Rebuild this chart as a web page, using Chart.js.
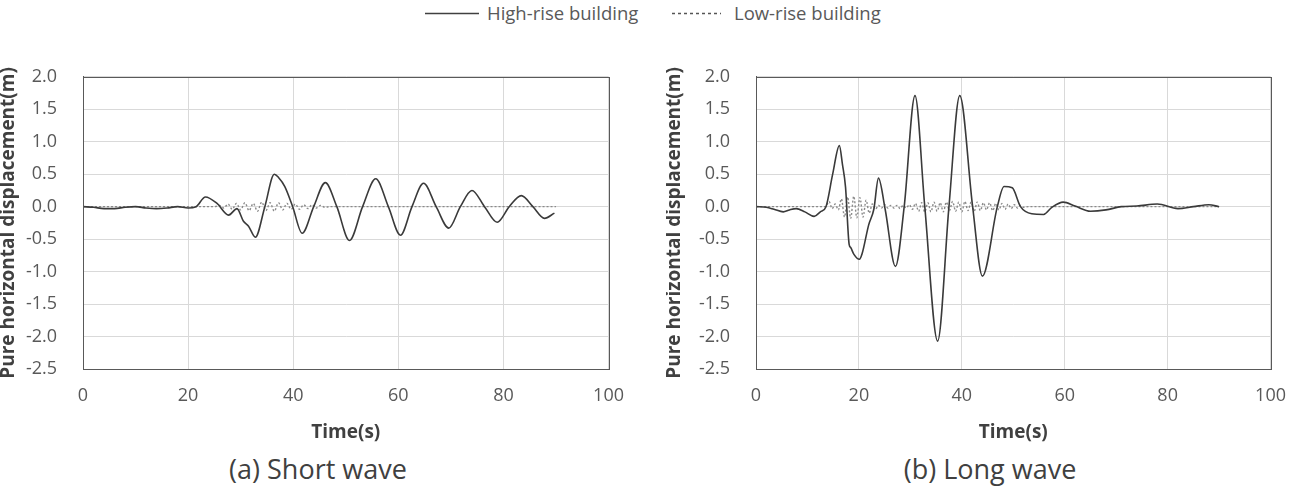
<!DOCTYPE html>
<html>
<head>
<meta charset="utf-8">
<script src="https://cdn.jsdelivr.net/npm/chart.js@4.4.0/dist/chart.umd.min.js"></script>
<style>
  body { margin: 0; background: #fff; width: 1302px; height: 487px; position: relative; overflow: hidden; font-family: "Open Sans", sans-serif; }
  canvas { position: absolute; }
  #grafico_curta { left: 0; top: 40px; }
  #grafico_longa { left: 666px; top: 40px; }
  .legenda { position: absolute; top: 0; font-size: 18.5px; color: #595959; white-space: nowrap; line-height: 26px; }
  .legenda svg { position: absolute; top: 12px; }
  .rotulo { position: absolute; top: 450px; font-size: 27px; color: #404040; width: 640px; text-align: center; }
</style>
</head>
<body>
<div class="legenda" style="left:425px"><svg width="54" height="3" style="left:0"><line x1="0" y1="1.5" x2="54" y2="1.5" stroke="#404040" stroke-width="1.3"/></svg><span style="position:absolute;left:62px">High-rise building</span></div>
<div class="legenda" style="left:672px"><svg width="49" height="3" style="left:0"><line x1="0" y1="1.5" x2="49" y2="1.5" stroke="#555" stroke-width="1.3" stroke-dasharray="3,3"/></svg><span style="position:absolute;left:62px">Low-rise building</span></div>
<canvas id="grafico_curta" width="640" height="410"></canvas>
<canvas id="grafico_longa" width="636" height="410"></canvas>
<div class="rotulo" style="left:-2px">(a) Short wave</div>
<div class="rotulo" style="left:670px">(b) Long wave</div>
<script>
// eixos
const xTicks = [0, 20, 40, 60, 80, 100];
const yTicks = [2.0, 1.5, 1.0, 0.5, 0.0, -0.5, -1.0, -1.5, -2.0, -2.5];

// (a) short wave - high-rise
const curtaAltoT = [0, 2, 4, 6, 8, 10, 12, 14, 16, 18, 20, 21.5, 23.3, 25.5, 27.7, 29.3, 30.5, 31.5, 32.8, 34.6, 36.4, 37.2, 38.4, 39.9, 41.7, 43.9, 46.1, 48.3, 50.7, 53.2, 55.7, 58.1, 60.4, 62.6, 64.8, 67.2, 69.6, 71.8, 74.0, 76.4, 78.8, 81.1, 83.4, 85.6, 87.8, 89.7];
const curtaAltoV = [0, -0.01, -0.03, -0.03, -0.01, 0.0, -0.02, -0.03, -0.02, 0.0, -0.02, 0.0, 0.15, 0.05, -0.13, -0.03, -0.22, -0.3, -0.47, 0.0, 0.50, 0.45, 0.31, 0.0, -0.41, 0.0, 0.37, 0.0, -0.52, 0.0, 0.43, 0.0, -0.44, 0.0, 0.36, 0.0, -0.33, 0.0, 0.25, 0.0, -0.24, 0.0, 0.17, 0.0, -0.18, -0.10];

// (a) short wave - low-rise
const curtaBaixoT = [0, 25, 26.0, 26.8, 27.6, 28.4, 29.2, 30.0, 30.8, 31.6, 32.4, 33.2, 34.0, 34.8, 35.6, 36.4, 37.2, 38.0, 38.8, 39.6, 40.4, 41.2, 42.0, 42.8, 43.6, 44.4, 45.2, 46.0, 47, 90];
const curtaBaixoV = [0, 0, 0.02, -0.02, 0.04, -0.04, 0.05, -0.05, 0.06, -0.06, 0.05, -0.07, 0.07, -0.06, 0.06, -0.07, 0.06, -0.05, 0.05, -0.04, 0.04, -0.04, 0.03, -0.03, 0.03, -0.02, 0.02, -0.01, 0, 0];

// (b) long wave - high-rise
const longaAltoT = [0, 2, 3.5, 5.3, 6.5, 7.8, 9.5, 11.3, 12.5, 13.6, 14.9, 16.2, 16.8, 17.4, 18.1, 18.4, 19.0, 20.1, 20.6, 21.9, 22.9, 23.8, 25.1, 27.1, 28.8, 30.9, 32.8, 35.3, 37.5, 39.6, 42.1, 44.0, 46.9, 48.2, 49.8, 51.4, 53.6, 55.9, 57.5, 59.7, 62, 65, 68, 71, 74, 78, 82, 85, 88, 90];
const longaAltoV = [0, -0.01, -0.04, -0.08, -0.05, -0.03, -0.08, -0.15, -0.08, 0.0, 0.5, 0.94, 0.65, 0.30, -0.58, -0.63, -0.73, -0.81, -0.73, -0.28, -0.04, 0.44, -0.04, -0.92, 0.0, 1.71, 0.0, -2.07, 0.0, 1.71, 0.0, -1.07, 0.0, 0.31, 0.29, 0.0, -0.11, -0.12, -0.01, 0.07, 0.01, -0.07, -0.05, 0.0, 0.01, 0.04, -0.03, 0.0, 0.03, 0.0];

// (b) long wave - low-rise
const longaBaixoT = [0, 13.5, 14.2, 14.8, 15.4, 16.0, 16.6, 17.2, 17.8, 18.4, 19.0, 19.6, 20.2, 20.8, 21.4, 22.0, 22.6, 23.2, 23.8, 24.4, 25.0, 25.6, 26.2, 26.8, 27.4, 28.0, 28.6, 29.2, 29.8, 30.4, 31.0, 31.6, 32.2, 32.8, 33.4, 34.0, 34.6, 35.2, 35.8, 36.4, 37.0, 37.6, 38.2, 38.8, 39.4, 40.0, 40.6, 41.2, 41.8, 42.4, 43.0, 43.6, 44.2, 44.8, 45.4, 46.0, 46.6, 47.2, 47.8, 48.4, 49.0, 49.6, 50.2, 50.8, 51.4, 52.0, 53, 90];
const longaBaixoV = [0, 0, 0.08, -0.03, 0.04, -0.05, 0.12, -0.16, 0.15, -0.18, 0.16, -0.17, 0.14, -0.16, 0.10, -0.10, 0.04, -0.04, 0.02, -0.02, 0.03, -0.02, 0.02, -0.02, 0.02, -0.03, 0.02, -0.02, 0.03, -0.04, 0.05, -0.07, 0.06, -0.08, 0.06, -0.08, 0.07, -0.07, 0.06, -0.08, 0.07, -0.06, 0.08, -0.07, 0.07, -0.08, 0.08, -0.06, 0.07, -0.07, 0.07, -0.06, 0.06, -0.05, 0.06, -0.06, 0.05, -0.05, 0.05, -0.04, 0.04, -0.03, 0.03, -0.02, 0.02, -0.01, 0, 0];

function pontos(ts, vs) {
  return ts.map((t, i) => ({ x: t, y: vs[i] }));
}

// moldura do grafico (lados de cima e direita)
const moldura = {
  id: 'moldura',
  afterDraw(chart) {
    const a = chart.chartArea;
    const ctx = chart.ctx;
    ctx.save();
    ctx.strokeStyle = '#595959';
    ctx.lineWidth = 1;
    ctx.strokeRect(Math.round(a.left) + 0.5, Math.round(a.top) + 0.5, Math.round(a.right - a.left), Math.round(a.bottom - a.top));
    ctx.restore();
  }
};

function montaConfig(altoT, altoV, baixoT, baixoV, larguraY, paddingDir) {
  return {
    type: 'line',
    data: {
      datasets: [{
        label: 'High-rise building',
        data: pontos(altoT, altoV),
        borderColor: '#3a3a3a',
        borderWidth: 1.6,
        pointRadius: 0,
        cubicInterpolationMode: 'monotone',
        order: 1
      }, {
        label: 'Low-rise building',
        data: pontos(baixoT, baixoV),
        borderColor: '#8a8a8a',
        borderWidth: 1.4,
        borderDash: [2, 2],
        pointRadius: 0,
        cubicInterpolationMode: 'monotone',
        order: 2
      }]
    },
    options: {
      responsive: false,
      animation: false,
      layout: { padding: { left: 0, top: 22, right: paddingDir, bottom: 0 } },
      plugins: { legend: { display: false }, tooltip: { enabled: false } },
      scales: {
        x: {
          type: 'linear',
          min: 0,
          max: 100,
          afterBuildTicks: (s) => { s.ticks = xTicks.map(v => ({ value: v })); },
          afterFit: (s) => { s.height = 81; },
          grid: { color: '#d9d9d9', drawTicks: false },
          border: { color: '#595959' },
          ticks: { color: '#595959', font: { family: 'Open Sans', size: 18 }, padding: 16, maxRotation: 0 },
          title: { display: true, text: 'Time(s)', color: '#404040', font: { family: 'Open Sans', size: 19, weight: 'bold' }, padding: { top: 0, bottom: 6 } }
        },
        y: {
          min: -2.5,
          max: 2.0,
          afterBuildTicks: (s) => { s.ticks = yTicks.map(v => ({ value: v })); },
          afterFit: (s) => { s.width = larguraY; },
          grid: { color: '#d9d9d9', drawTicks: false },
          border: { color: '#595959' },
          ticks: { color: '#595959', font: { family: 'Open Sans', size: 18 }, padding: 26, callback: (v) => Number(v).toFixed(1) },
          title: { display: true, text: 'Pure horizontal displacement(m)', color: '#404040', font: { family: 'Open Sans', size: 19, weight: 'bold' }, padding: { top: -3, bottom: 0 } }
        }
      }
    },
    plugins: [moldura]
  };
}

const grafico_curta = new Chart(
  document.getElementById('grafico_curta'),
  montaConfig(curtaAltoT, curtaAltoV, curtaBaixoT, curtaBaixoV, 83, 27)
);

const grafico_longa = new Chart(
  document.getElementById('grafico_longa'),
  montaConfig(longaAltoT, longaAltoV, longaBaixoT, longaBaixoV, 90, 25)
);
</script>
</body>
</html>
